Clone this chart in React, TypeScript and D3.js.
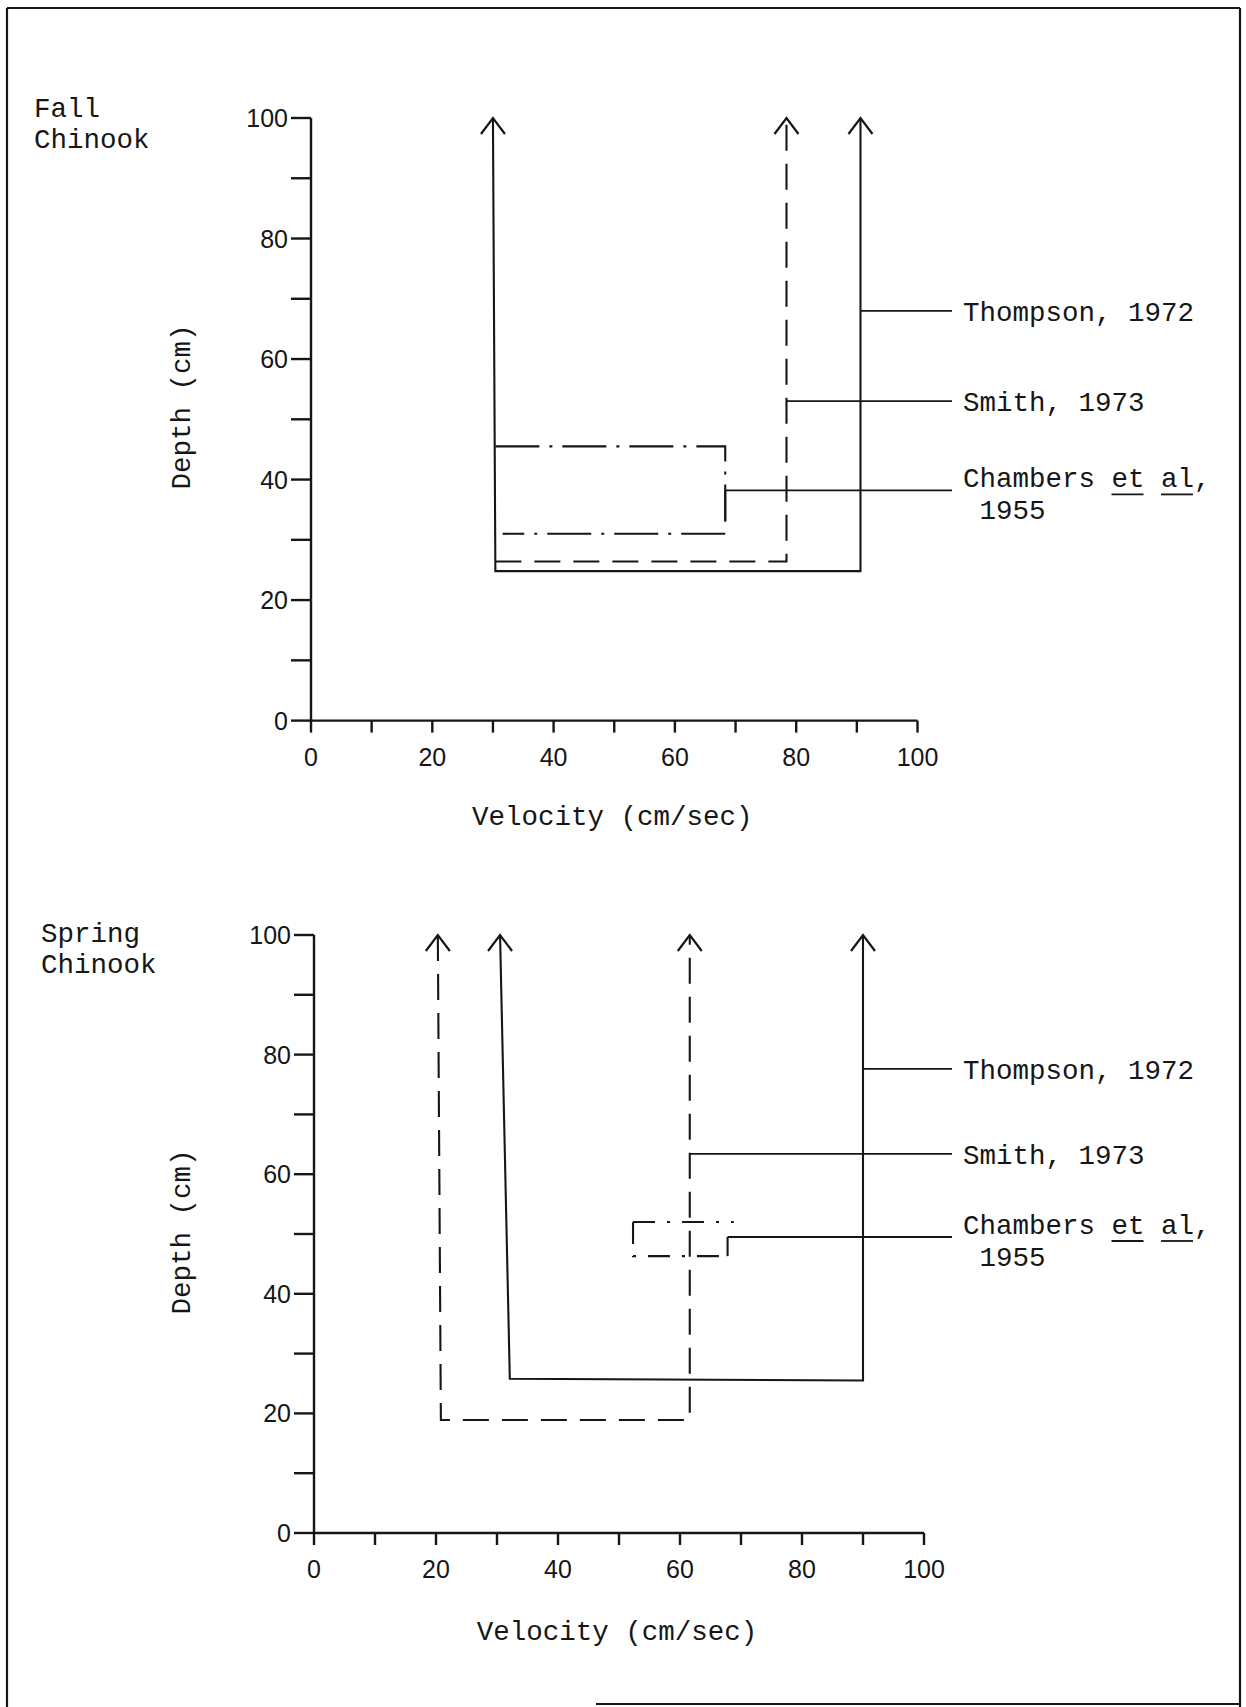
import React from "react";
import * as d3 from "d3";

type Pt = [number, number]; // [velocity cm/sec, depth cm]

// Axis ticks
const axisTicks = [0, 10, 20, 30, 40, 50, 60, 70, 80, 90, 100];
const axisLabels = [0, 20, 40, 60, 80, 100];

// Study names, in leader order (top to bottom)
const studies = ["Thompson, 1972", "Smith, 1973", "Chambers", "et", "al", "1955"];

// Fall Chinook: spawning depth / velocity criteria
const fallThompson: Pt[] = [[30, 100], [30.4, 24.8], [90.6, 24.8], [90.6, 100]];
const fallSmith: Pt[] = [[30.4, 26.4], [78.4, 26.4], [78.4, 100]];
const fallChambersTop: Pt[] = [[30.4, 45.5], [68.3, 45.5], [68.3, 33.2]];
const fallChambersBody: Pt[] = [[68.3, 31], [31.6, 31]];
const fallChambersStem: Pt[] = [[68.3, 33], [68.3, 38.2]];
const fallLeaderFrom: Pt[] = [[90.6, 68], [78.4, 53], [68.3, 38.2]];

// Spring Chinook: spawning depth / velocity criteria
const springThompson: Pt[] = [[30.5, 100], [32.1, 25.8], [90, 25.5], [90, 100]];
const springSmith: Pt[] = [[20.3, 100], [20.8, 18.9], [61.6, 18.9], [61.6, 100]];
const springChambersTop: Pt[] = [[52.3, 52], [68.8, 52]];
const springChambersBody: Pt[] = [[52.3, 52], [52.3, 46.3], [67.8, 46.3]];
const springChambersStem: Pt[] = [[67.8, 46.3], [67.8, 49.5]];
const springLeaderFrom: Pt[] = [[90, 77.6], [61.6, 63.4], [67.8, 49.5]];

const INK = "#161616";
const MONO = "'Liberation Mono', 'Courier New', monospace";
const SANS = "'Liberation Sans', Arial, sans-serif";

const DASH = "26 13";

type PanelSpec = {
  title: string[];
  titleX: number;
  titleY: number;
  x0: number;
  x1: number;
  yTop: number;
  yBottom: number;
  depthLabelY: number;
  velocityLabelY: number;
  dashDot: string;
  thompson: Pt[];
  smith: Pt[];
  chambersTop: Pt[];
  chambersBody: Pt[];
  chambersStem: Pt[];
  leaderFrom: Pt[];
};

const panels: PanelSpec[] = [
  {
    title: ["Fall", "Chinook"],
    titleX: 34,
    titleY: 117,
    x0: 311,
    x1: 917.5,
    yTop: 118,
    yBottom: 720.6,
    depthLabelY: 407,
    velocityLabelY: 825,
    dashDot: "44 10 3 10",
    thompson: fallThompson,
    smith: fallSmith,
    chambersTop: fallChambersTop,
    chambersBody: fallChambersBody,
    chambersStem: fallChambersStem,
    leaderFrom: fallLeaderFrom,
  },
  {
    title: ["Spring", "Chinook"],
    titleX: 41,
    titleY: 942,
    x0: 314,
    x1: 924,
    yTop: 935,
    yBottom: 1533,
    depthLabelY: 1232,
    velocityLabelY: 1640,
    dashDot: "22 12 3 12",
    thompson: springThompson,
    smith: springSmith,
    chambersTop: springChambersTop,
    chambersBody: springChambersBody,
    chambersStem: springChambersStem,
    leaderFrom: springLeaderFrom,
  },
];

const LEADER_END = 952;
const LABEL_X = 963;
const FS_TEXT = 27.5;
const FS_TICK = 25;

function Arrow({ x, y }: { x: number; y: number }) {
  return (
    <path
      d={`M${x - 12},${y + 16}L${x},${y}L${x + 12},${y + 16}`}
      fill="none"
      stroke={INK}
      strokeWidth={2.2}
      strokeLinejoin="miter"
    />
  );
}

function Panel({ p }: { p: PanelSpec }) {
  const x = d3.scaleLinear().domain([0, 100]).range([p.x0, p.x1]);
  const y = d3.scaleLinear().domain([0, 100]).range([p.yBottom, p.yTop]);
  const line = d3
    .line<Pt>()
    .x((d) => x(d[0]))
    .y((d) => y(d[1]));

  const arrowsFor = (pts: Pt[]) =>
    pts.filter((d) => d[1] === 100).map((d, i) => <Arrow key={i} x={x(d[0])} y={y(d[1])} />);

  const leaderY = p.leaderFrom.map((d) => y(d[1]));
  const charW = FS_TEXT * 0.6;

  return (
    <g>
      {/* panel title */}
      <text fontFamily={MONO} fontSize={FS_TEXT} fill={INK}>
        {p.title.map((t, i) => (
          <tspan key={i} x={p.titleX} y={p.titleY + i * 31}>
            {t}
          </tspan>
        ))}
      </text>

      {/* axes */}
      <g stroke={INK} strokeWidth={2.4} fill="none">
        <line x1={x(0)} x2={x(0)} y1={y(100)} y2={y(0)} />
        <line x1={x(0)} x2={x(100)} y1={y(0)} y2={y(0)} />
        {axisTicks.map((t) => (
          <line key={"yt" + t} x1={x(0) - 20} x2={x(0)} y1={y(t)} y2={y(t)} />
        ))}
        {axisTicks.map((t) => (
          <line key={"xt" + t} x1={x(t)} x2={x(t)} y1={y(0)} y2={y(0) + 12} />
        ))}
      </g>
      <g fontFamily={SANS} fontSize={FS_TICK} fill={INK}>
        {axisLabels.map((t) => (
          <text key={"yl" + t} x={x(0) - 23} y={y(t) + 9} textAnchor="end">
            {t}
          </text>
        ))}
        {axisLabels.map((t) => (
          <text key={"xl" + t} x={x(t)} y={y(0) + 45} textAnchor="middle">
            {t}
          </text>
        ))}
      </g>

      {/* axis titles */}
      <text
        fontFamily={MONO}
        fontSize={FS_TEXT}
        fill={INK}
        textAnchor="middle"
        x={(x(0) + x(100)) / 2 - 2}
        y={p.velocityLabelY}
      >
        Velocity (cm/sec)
      </text>
      <text
        fontFamily={MONO}
        fontSize={FS_TEXT}
        fill={INK}
        textAnchor="middle"
        transform={`translate(190,${p.depthLabelY}) rotate(-90)`}
      >
        Depth (cm)
      </text>

      {/* criteria outlines */}
      <g fill="none" stroke={INK} strokeWidth={2.1}>
        <path d={line(p.thompson) || ""} />
        <path d={line(p.smith) || ""} strokeDasharray={DASH} />
        <path d={line(p.chambersTop) || ""} strokeDasharray={p.dashDot} />
        <path d={line(p.chambersBody) || ""} strokeDasharray={p.dashDot} />
        <path d={line(p.chambersStem) || ""} />
      </g>
      {arrowsFor(p.thompson)}
      {arrowsFor(p.smith)}

      {/* leaders and study labels */}
      <g stroke={INK} strokeWidth={1.8}>
        {p.leaderFrom.map((d, i) => (
          <line key={i} x1={x(d[0])} x2={LEADER_END} y1={leaderY[i]} y2={leaderY[i]} />
        ))}
      </g>
      <g fontFamily={MONO} fontSize={FS_TEXT} fill={INK}>
        <text x={LABEL_X} y={leaderY[0] + 10}>
          {studies[0]}
        </text>
        <text x={LABEL_X} y={leaderY[1] + 10}>
          {studies[1]}
        </text>
        <text x={LABEL_X} y={leaderY[2] - 3}>
          {studies[2]}
        </text>
        <text x={LABEL_X + 9 * charW} y={leaderY[2] - 3}>
          {studies[3]}
        </text>
        <text x={LABEL_X + 12 * charW} y={leaderY[2] - 3}>
          {studies[4] + ","}
        </text>
        <text x={LABEL_X + charW} y={leaderY[2] + 29}>
          {studies[5]}
        </text>
      </g>
      {/* underlines for the Latin abbreviation */}
      <g stroke={INK} strokeWidth={1.8}>
        <line
          x1={LABEL_X + 9 * charW}
          x2={LABEL_X + 11 * charW - 1}
          y1={leaderY[2] + 4}
          y2={leaderY[2] + 4}
        />
        <line
          x1={LABEL_X + 12 * charW}
          x2={LABEL_X + 14 * charW - 1}
          y1={leaderY[2] + 4}
          y2={leaderY[2] + 4}
        />
      </g>
    </g>
  );
}

export default function App() {
  const W = 1246;
  const H = 1707;
  return (
    <svg
      width={W}
      height={H}
      viewBox={`0 0 ${W} ${H}`}
      style={{ position: "absolute", left: 0, top: 0, display: "block", background: "#fff" }}
    >
      <rect x={0} y={0} width={W} height={H} fill="#fff" />
      {/* page frame */}
      <g stroke={INK} strokeWidth={2.2} fill="none">
        <line x1={7} x2={7} y1={8} y2={H} />
        <line x1={7} x2={1240} y1={8} y2={8} />
        <line x1={1240} x2={1240} y1={8} y2={H} />
        <line x1={596} x2={1240} y1={1704} y2={1704} />
      </g>
      {panels.map((p, i) => (
        <Panel key={i} p={p} />
      ))}
    </svg>
  );
}
